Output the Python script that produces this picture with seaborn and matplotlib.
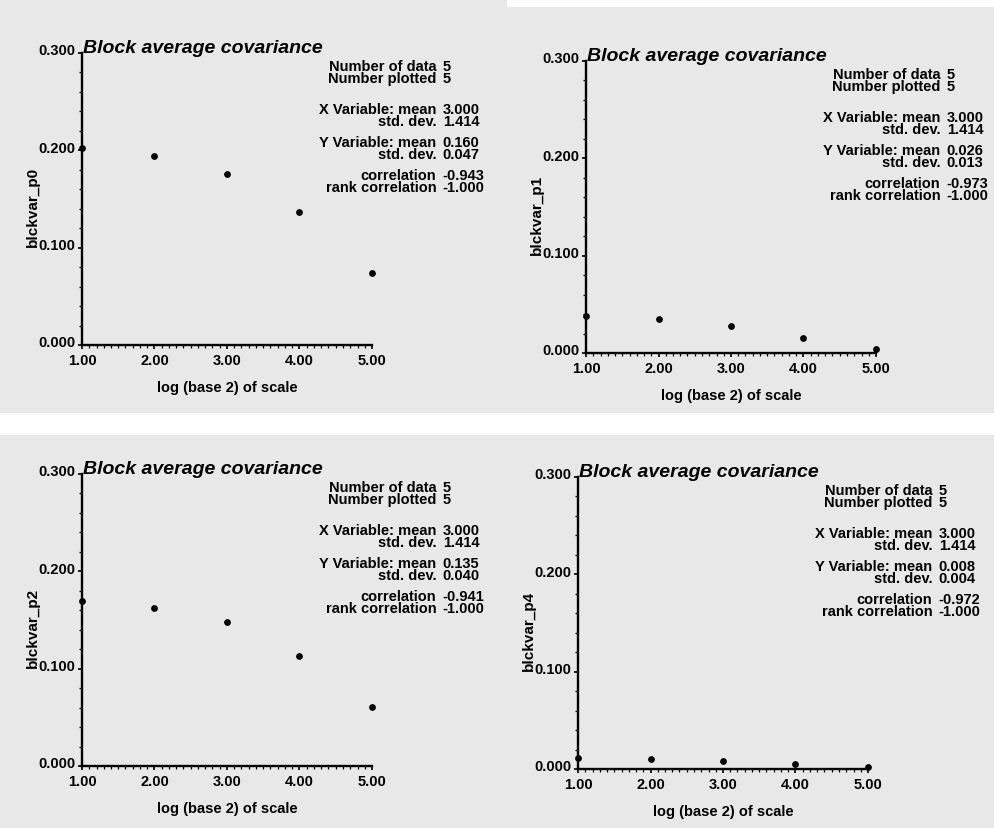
import numpy as np
import pandas as pd
import matplotlib
matplotlib.use("Agg")
import matplotlib.pyplot as plt
import seaborn as sns
from matplotlib.ticker import MultipleLocator, FormatStrFormatter
from matplotlib.transforms import ScaledTranslation
from matplotlib.patches import Rectangle

# ---------------- data ----------------
scale_log2 = [1, 2, 3, 4, 5]
variables = ["blckvar_p0", "blckvar_p1", "blckvar_p2", "blckvar_p4"]
blckvar_p0 = [0.202, 0.194, 0.176, 0.137, 0.074]
blckvar_p1 = [0.038, 0.035, 0.028, 0.015, 0.004]
blckvar_p2 = [0.170, 0.162, 0.148, 0.113, 0.061]
blckvar_p4 = [0.011, 0.010, 0.008, 0.005, 0.002]
series = [blckvar_p0, blckvar_p1, blckvar_p2, blckvar_p4]

n_data = 5
n_plotted = 5
x_mean = "3.000"
x_std = "1.414"
y_means = ["0.160", "0.026", "0.135", "0.008"]
y_stds = ["0.047", "0.013", "0.040", "0.004"]
correlations = ["-0.943", "-0.973", "-0.941", "-0.972"]
rank_correlations = ["-1.000", "-1.000", "-1.000", "-1.000"]

title = "Block average covariance"
xlabel = "log (base 2) of scale"
x_ticks = [1.0, 2.0, 3.0, 4.0, 5.0]
y_ticks = [0.0, 0.1, 0.2, 0.3]

# ---------------- style ----------------
sns.set_theme(style="ticks")
plt.rcParams["font.family"] = ["Liberation Sans", "DejaVu Sans"]
BG = "#e8e8e8"

W, H = 995, 829
fig = plt.figure(figsize=(W / 100, H / 100), dpi=100)
fig.patch.set_facecolor(BG)
# white scan margins
fig.patches.append(Rectangle((507 / W, 1 - 8 / H), 1, 8 / H, transform=fig.transFigure,
                             facecolor="white", edgecolor="none", zorder=0))
fig.patches.append(Rectangle((0, 1 - 436 / H), 1, 22 / H, transform=fig.transFigure,
                             facecolor="white", edgecolor="none", zorder=0))

# axes boxes in pixels: (left, bottom_y_px)
boxes = [(82, 346), (586, 354), (82, 767), (578, 770)]
AW, AH = 290, 292

for i, (left, bottom) in enumerate(boxes):
    ax = fig.add_axes([left / W, 1 - bottom / H, AW / W, AH / H])
    ax.set_facecolor("none")
    df = pd.DataFrame({"x": scale_log2, "y": series[i]})
    sns.scatterplot(data=df, x="x", y="y", ax=ax, color="black", s=24,
                    edgecolor="black", linewidth=0, clip_on=False, zorder=5)
    ax.set_xlim(1, 5)
    ax.set_ylim(0, 0.3)
    sns.despine(ax=ax)
    for sp in ("left", "bottom"):
        ax.spines[sp].set_linewidth(1.7)
        ax.spines[sp].set_color("black")

    ax.xaxis.set_minor_locator(MultipleLocator(0.1))
    ax.yaxis.set_minor_locator(MultipleLocator(0.02))
    ax.set_xticks(x_ticks)
    ax.set_yticks(y_ticks)
    ax.xaxis.set_major_formatter(FormatStrFormatter("%.2f"))
    ax.yaxis.set_major_formatter(FormatStrFormatter("%.3f"))
    ax.tick_params(axis="both", which="major", length=3, width=1.2, color="black",
                   labelsize=10.5, labelcolor="black")
    ax.tick_params(axis="x", which="major", pad=3)
    ax.tick_params(axis="y", which="major", pad=2)
    ax.tick_params(axis="both", which="minor", length=2, width=0.9, color="black")
    for lab in ax.get_yticklabels() + ax.get_xticklabels():
        lab.set_fontweight("bold")
    for lab in ax.get_yticklabels():
        lab.set_transform(lab.get_transform() + ScaledTranslation(0, 3 / 72, fig.dpi_scale_trans))

    ax.set_xlabel(xlabel, fontsize=10.5, color="black", fontweight="bold")
    ax.xaxis.label.set_va("center")
    ax.xaxis.set_label_coords(0.5, -42 / AH)
    ax.set_ylabel(variables[i], fontsize=11, color="black", fontweight="bold")
    ax.yaxis.label.set_va("center")
    ax.yaxis.set_label_coords(-49 / AW, 0.476)

    ax.text(0.005, 1.02, title, transform=ax.transAxes, fontsize=14,
            fontweight="bold", fontstyle="italic", ha="left", va="center", color="black")

    groups = [(("Number of data", "Number plotted"), (str(n_data), str(n_plotted)), 0.935),
              (("X Variable: mean", "std. dev."), (x_mean, x_std), 0.788),
              (("Y Variable: mean", "std. dev."), (y_means[i], y_stds[i]), 0.675),
              (("correlation", "rank correlation"), (correlations[i], rank_correlations[i]), 0.562)]
    for labs, vals, yy in groups:
        ax.text(1.222, yy, "\n".join(labs), transform=ax.transAxes, ha="right",
                va="center", multialignment="right", linespacing=0.78,
                fontsize=10.5, fontweight="bold", color="black", clip_on=False)
        ax.text(1.244, yy, "\n".join(vals), transform=ax.transAxes, ha="left",
                va="center", multialignment="left", linespacing=0.78,
                fontsize=10.5, fontweight="bold", color="black", clip_on=False)

fig.savefig("out.png", dpi=100, facecolor=fig.get_facecolor())
